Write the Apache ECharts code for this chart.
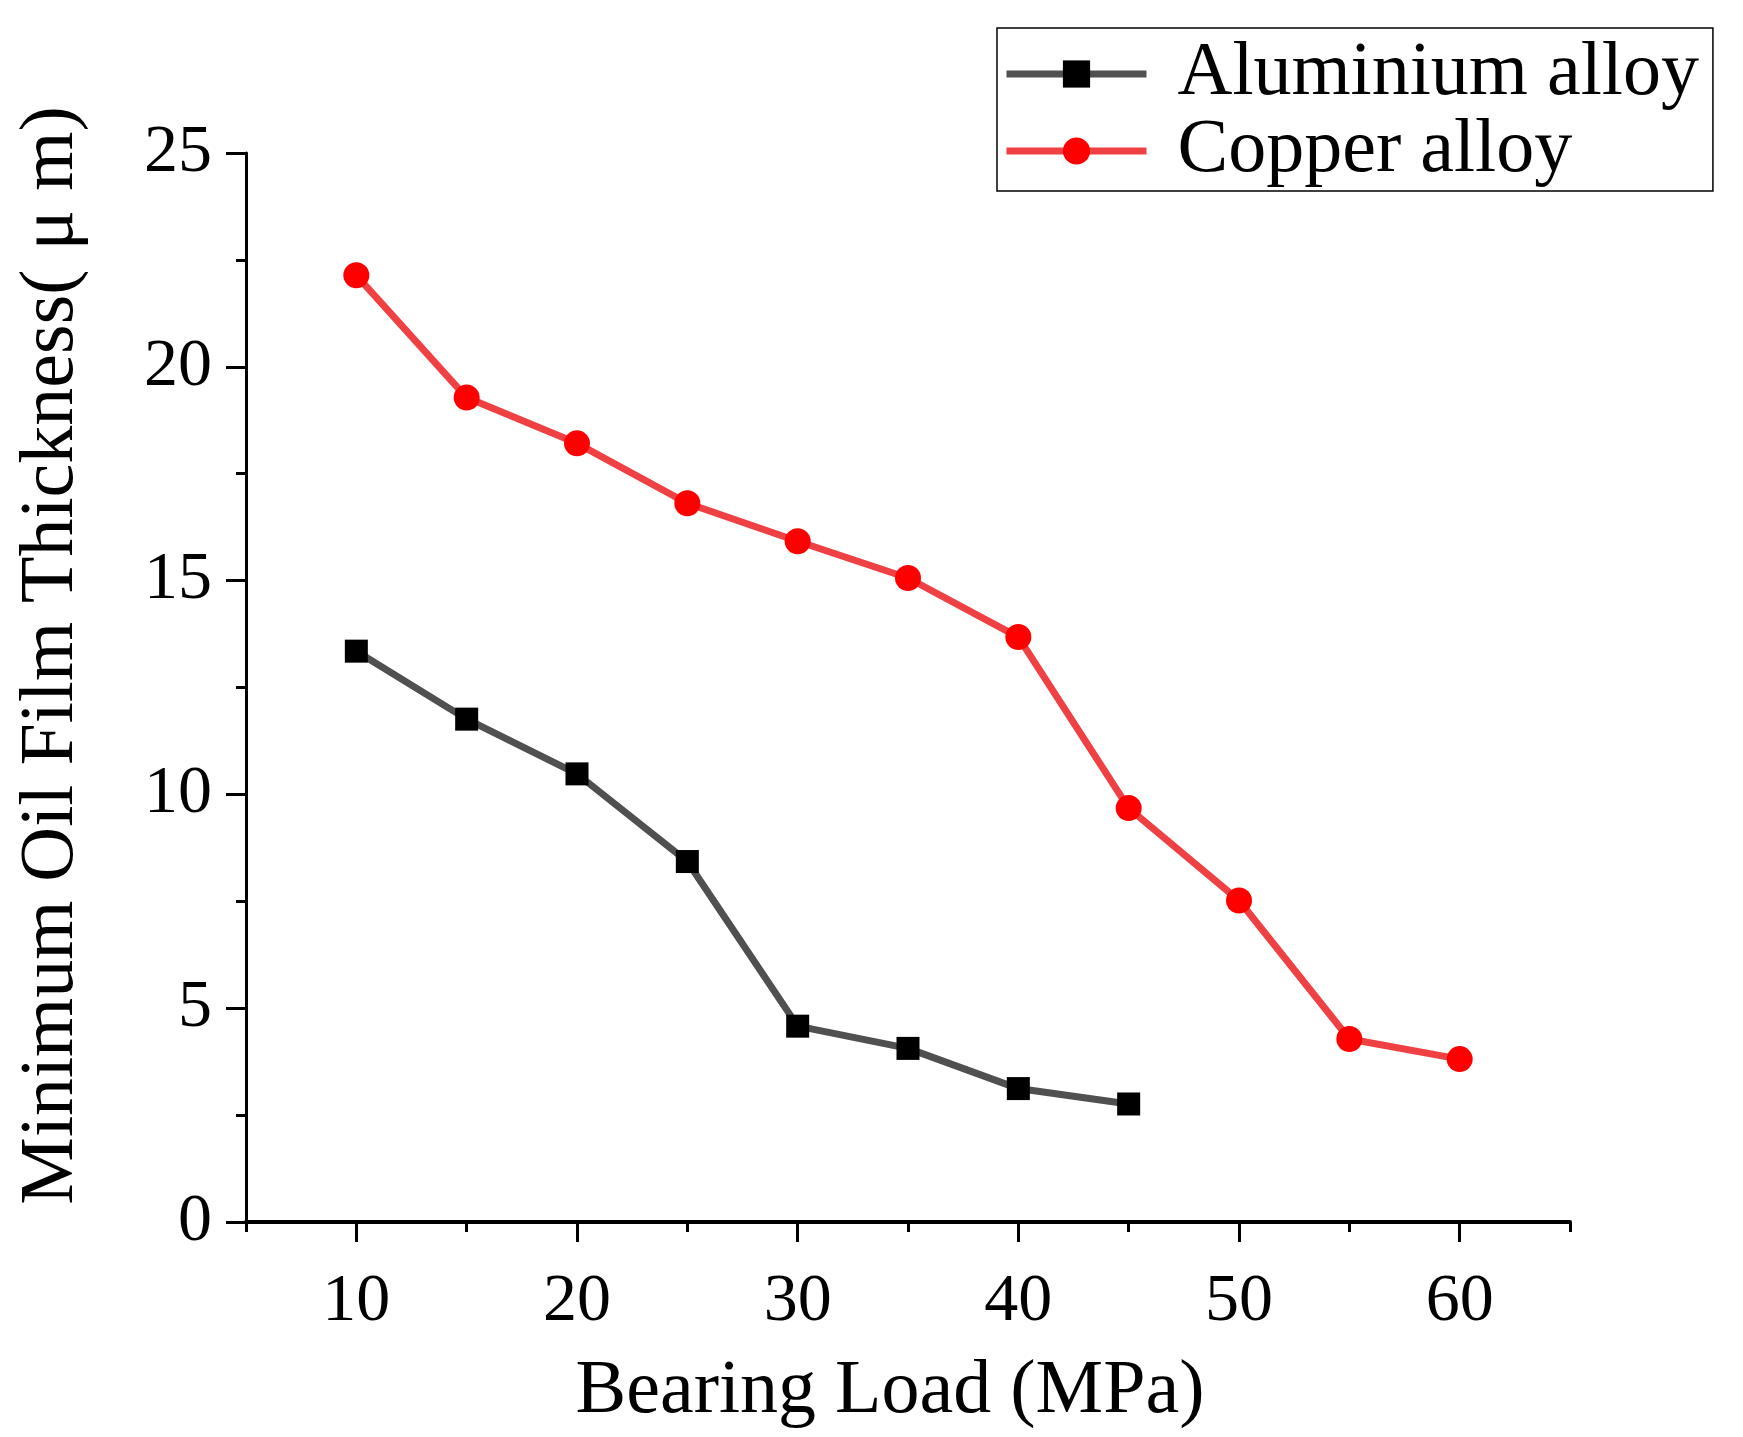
<!DOCTYPE html>
<html>
<head>
<meta charset="utf-8">
<script src="https://cdn.jsdelivr.net/npm/echarts@6/dist/echarts.min.js"></script>
<style>
html,body{margin:0;padding:0;background:#fff;}
#main{width:1743px;height:1437px;}
</style>
</head>
<body>
<div id="main"></div>
<script>
// 数据
var loads = [10, 15, 20, 25, 30, 35, 40, 45, 50, 55, 60];
var aluminium = [13.35, 11.76, 10.48, 8.43, 4.58, 4.06, 3.12, 2.76];
var copper = [22.14, 19.28, 18.21, 16.81, 15.92, 15.06, 13.68, 9.68, 7.52, 4.28, 3.81];
var seriesNames = ['Aluminium alloy', 'Copper alloy'];
var xMajor = [10, 20, 30, 40, 50, 60];   // 长刻度和标签
var xMinor = [5, 15, 25, 35, 45, 55, 65]; // 短刻度

function pairs(xs, ys){
	var out = [];
	for(var i = 0; i < ys.length; i++){
		out.push([xs[i], ys[i]]);
	}
	return out;
}

var font = '"Liberation Serif", "DejaVu Serif", serif';
var chart = echarts.init(document.getElementById('main'));
var option = {
	backgroundColor: '#fff',
	animation: false,
	grid: {
		left: 246,
		right: 173,
		top: 153,
		bottom: 215
	},
	legend: {
		data: seriesNames,
		orient: 'vertical',
		left: 997,
		top: 28,
		padding: [8, 14, 2, 6],
		itemGap: 1,
		itemWidth: 140,
		itemHeight: 34,
		borderColor: '#000',
		borderWidth: 1.5,
		lineStyle: { width: 7 },
		textStyle: {
			fontFamily: font,
			fontSize: 76,
			color: '#000',
			padding: [0, 0, 0, 26]
		}
	},
	xAxis: [{
		type: 'value',
		min: 5,
		max: 65,
		interval: 5,
		name: 'Bearing Load (MPa)',
		nameLocation: 'middle',
		nameGap: 132,
		nameTextStyle: { fontFamily: font, fontSize: 76, color: '#000', padding: [0, 36, 0, 0] },
		splitLine: { show: false },
		axisLine: { lineStyle: { color: '#000', width: 4 } },
		axisTick: { customValues: xMajor, inside: false, length: 20, lineStyle: { color: '#000', width: 3 } },
		axisLabel: {
			customValues: xMajor,
			fontFamily: font,
			fontSize: 68,
			color: '#000',
			margin: 46
		}
	}, {
		// 短刻度
		type: 'value',
		min: 5,
		max: 65,
		interval: 5,
		position: 'bottom',
		splitLine: { show: false },
		axisLine: { show: false },
		axisTick: { customValues: xMinor, inside: false, length: 10, lineStyle: { color: '#000', width: 3 } },
		axisLabel: { show: false }
	}],
	yAxis: {
		type: 'value',
		min: 0,
		max: 25,
		interval: 5,
		name: 'Minimum Oil Film Thickness( μ m)',
		nameLocation: 'middle',
		nameGap: 156,
		nameTextStyle: { fontFamily: font, fontSize: 76, color: '#000', padding: [0, 0, 0, 64] },
		splitLine: { show: false },
		axisLine: { lineStyle: { color: '#000', width: 3 } },
		axisTick: { inside: false, length: 20, lineStyle: { color: '#000', width: 3 } },
		minorTick: { show: true, splitNumber: 2, length: 10, lineStyle: { color: '#000', width: 3 } },
		axisLabel: {
			fontFamily: font,
			fontSize: 68,
			color: '#000',
			margin: 34
		}
	},
	series: [{
		name: seriesNames[0],
		type: 'line',
		data: pairs(loads, aluminium),
		symbol: 'rect',
		symbolSize: 23,
		lineStyle: { color: '#505050', width: 7 },
		itemStyle: { color: '#000', borderWidth: 0 }
	}, {
		name: seriesNames[1],
		type: 'line',
		data: pairs(loads, copper),
		symbol: 'circle',
		symbolSize: 26,
		lineStyle: { color: '#ef4044', width: 7 },
		itemStyle: { color: '#ff0000', borderWidth: 0 }
	}]
};
chart.setOption(option);
</script>
</body>
</html>
